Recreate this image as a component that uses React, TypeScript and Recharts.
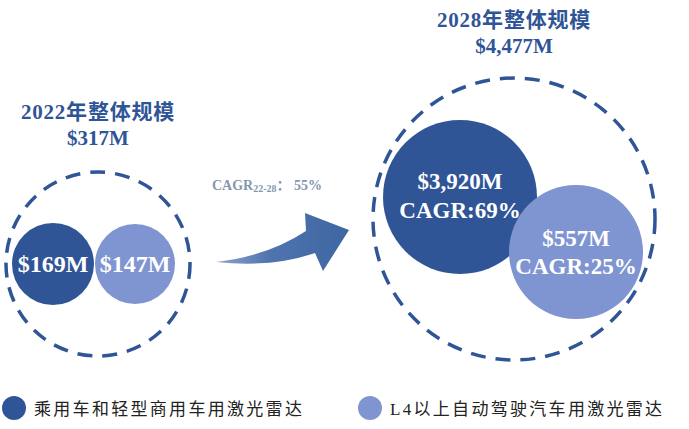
import React from 'react';
import { ScatterChart, Scatter, XAxis, YAxis, Legend, Customized } from 'recharts';

// ---------- data ----------
const years = ['2022', '2028'];
const totalMarket = [317, 4477]; // $M
const seriesNames = ['乘用车和轻型商用车用激光雷达', 'L4以上自动驾驶汽车用激光雷达'];
const passengerValues = [169, 3920]; // $M
const l4Values = [147, 557]; // $M
const passengerCagr: (number | null)[] = [null, 69];
const l4Cagr: (number | null)[] = [null, 25];
const overallCagr = 55;
const cagrPeriod = '22-28';

// ---------- styles / layout ----------
const W = 689;
const H = 429;
const DARK = '#2F5597';
const LIGHT = '#7F95D1';
const TITLE = '#2F5597';
const CAGR_GREY = '#8497B0';
const SERIF = '"Liberation Serif", "Times New Roman", "Noto Sans CJK SC", serif';

const GROUP_LAYOUT = [
  { dy: 49.5, ring: 92, titleY: -152, valueY: -126 },
  { dy: 4.5, ring: 141, titleY: -199, valueY: -173 },
];
const PASS_LAYOUT = [
  { dx: -45, dy: 0, r: 41, l1: 0, l2: 0 },
  { dx: -54, dy: -22, r: 77, l1: -16, l2: 13 },
];
const L4_LAYOUT = [
  { dx: 37, dy: 0, r: 40, l1: 0, l2: 0 },
  { dx: 62, dy: 33, r: 67, l1: -14, l2: 14 },
];
const LEGEND_X = [14, 370];

const fmt = (v: number) => '$' + v.toLocaleString('en-US') + 'M';

const totalData = years.map((year, i) => ({ x: i, y: 0, group: i, year, value: totalMarket[i] }));
const passData = years.map((year, i) => ({ x: i, y: 0, group: i, year, value: passengerValues[i], cagr: passengerCagr[i] }));
const l4Data = years.map((year, i) => ({ x: i, y: 0, group: i, year, value: l4Values[i], cagr: l4Cagr[i] }));

const RingShape = (props: any) => {
  const { cx, cy, payload } = props;
  const g = GROUP_LAYOUT[payload.group];
  const ccy = cy + g.dy;
  return (
    <g>
      <circle cx={cx} cy={ccy} r={g.ring} fill="none" stroke={DARK} strokeWidth={3.5} strokeDasharray="15 10" />
      <text x={cx} y={ccy + g.titleY} textAnchor="middle" dominantBaseline="central" fill={TITLE}
        fontFamily={SERIF} fontWeight="bold" fontSize={21} letterSpacing={0.8}>{payload.year + '年整体规模'}</text>
      <text x={cx} y={ccy + g.valueY} textAnchor="middle" dominantBaseline="central" fill={TITLE}
        fontFamily={SERIF} fontWeight="bold" fontSize={21}>{fmt(payload.value)}</text>
    </g>
  );
};

const makeBubble = (layout: typeof PASS_LAYOUT, color: string) => (props: any) => {
  const { cx, cy, payload } = props;
  const g = GROUP_LAYOUT[payload.group];
  const l = layout[payload.group];
  const bx = cx + l.dx;
  const by = cy + g.dy + l.dy;
  const hasCagr = payload.cagr != null;
  return (
    <g>
      <circle cx={bx} cy={by} r={l.r} fill={color} />
      {hasCagr ? (
        <>
          <text x={bx} y={by + l.l1} textAnchor="middle" dominantBaseline="central" fill="#fff"
            fontFamily={SERIF} fontWeight="bold" fontSize={23}>{fmt(payload.value)}</text>
          <text x={bx} y={by + l.l2} textAnchor="middle" dominantBaseline="central" fill="#fff"
            fontFamily={SERIF} fontWeight="bold" fontSize={23}>{'CAGR:' + payload.cagr + '%'}</text>
        </>
      ) : (
        <text x={bx} y={by} textAnchor="middle" dominantBaseline="central" fill="#fff"
          fontFamily={SERIF} fontWeight="bold" fontSize={24}>{fmt(payload.value)}</text>
      )}
    </g>
  );
};

const Arrow = () => (
  <g>
    <defs>
      <linearGradient id="arrowGrad" x1="0" y1="0" x2="1" y2="0">
        <stop offset="0%" stopColor="#8FA6CD" />
        <stop offset="40%" stopColor="#4F74AE" />
        <stop offset="100%" stopColor="#3F66A3" />
      </linearGradient>
    </defs>
    <path d="M216,262 Q268,256 306,231 L305,213 L349,230 L323,271 L315,253 Q272,268 216,262 Z" fill="url(#arrowGrad)" />
    <text x={212} y={185} dominantBaseline="central" fill={CAGR_GREY} fontFamily={SERIF} fontWeight="bold" fontSize={14}>
      CAGR<tspan fontSize={10} dy={3}>{cagrPeriod}</tspan><tspan dy={-3}>{'：  ' + overallCagr + '%'}</tspan>
    </text>
  </g>
);

const renderLegend = (props: any) => {
  const payload = (props.payload || []).filter((p: any) => seriesNames.includes(p.value));
  return (
    <div style={{ position: 'relative', width: W, height: 30 }}>
      {payload.map((p: any) => {
        const idx = seriesNames.indexOf(p.value);
        return (
          <div key={p.value} style={{ position: 'absolute', left: LEGEND_X[idx] - 12, top: 2, display: 'flex', alignItems: 'center' }}>
            <span style={{ display: 'inline-block', width: 24, height: 24, borderRadius: 12, background: p.color }} />
            <span style={{ marginLeft: 8, fontFamily: SERIF, fontSize: 17, letterSpacing: 2.3, color: '#222', whiteSpace: 'nowrap' }}>{p.value}</span>
          </div>
        );
      })}
    </div>
  );
};

export default function App() {
  return (
    <div style={{ position: 'absolute', left: 0, top: 0, width: W, height: H, background: '#fff' }}>
      <ScatterChart width={W} height={H} margin={{ top: 0, right: 0, bottom: 0, left: 0 }}>
        <XAxis type="number" dataKey="x" domain={[-98 / 416, 591 / 416]} hide allowDataOverflow />
        <YAxis type="number" dataKey="y" domain={[-1, 1]} hide allowDataOverflow />
        <Customized component={Arrow} />
        <Scatter name="total" data={totalData} legendType="none" shape={RingShape} isAnimationActive={false} />
        <Scatter name={seriesNames[0]} data={passData} fill={DARK} shape={makeBubble(PASS_LAYOUT, DARK)} isAnimationActive={false} />
        <Scatter name={seriesNames[1]} data={l4Data} fill={LIGHT} shape={makeBubble(L4_LAYOUT, LIGHT)} isAnimationActive={false} />
        <Legend verticalAlign="middle" align="center" layout="horizontal"
          wrapperStyle={{ top: 393, left: 0, width: W, height: 30 }} content={renderLegend} />
      </ScatterChart>
    </div>
  );
}
